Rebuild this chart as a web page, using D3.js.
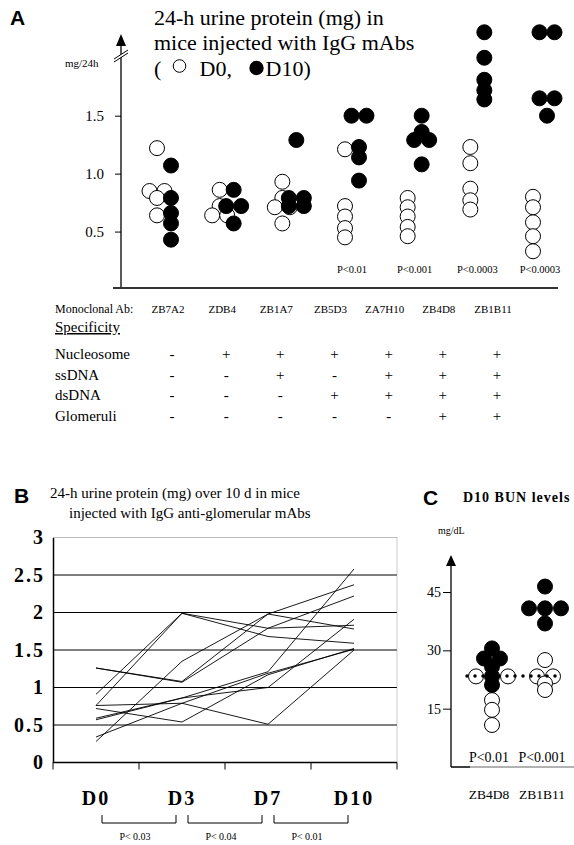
<!DOCTYPE html>
<html>
<head>
<meta charset="utf-8">
<script src="https://cdn.jsdelivr.net/npm/d3@7"></script>
<style>
  body { margin: 0; background: #fff; }
  text { font-family: "Liberation Serif", "Times New Roman", serif; fill: #000; }
  .panel { font-family: "Liberation Sans", Arial, sans-serif; font-weight: bold; font-size: 21px; }
</style>
</head>
<body>
<div id="fig"></div>
<script>
// ---- panel A : 24-h urine protein, D0 vs D10, per monoclonal Ab
const mabs = ["ZB7A2", "ZDB4", "ZB1A7", "ZB5D3", "ZA7H10", "ZB4D8", "ZB1B11"];
const proteinD0 = [
  [1.22, 0.85, 0.85, 0.79, 0.64],
  [0.86, 0.72, 0.64, 0.64],
  [0.93, 0.79, 0.71, 0.71, 0.57],
  [1.21, 0.72, 0.63, 0.53, 0.45],
  [0.79, 0.71, 0.63, 0.54, 0.46],
  [1.23, 1.09, 0.87, 0.77, 0.69],
  [0.80, 0.71, 0.58, 0.46, 0.33]
];
const proteinD10 = [
  [1.07, 0.79, 0.66, 0.57, 0.43],
  [0.86, 0.72, 0.72, 0.57],
  [1.29, 0.79, 0.79, 0.72, 0.72],
  [1.50, 1.50, 1.23, 1.14, 0.94],
  [1.50, 1.36, 1.29, 1.29, 1.08],
  [2.22, 2.00, 1.81, 1.72, 1.64],
  [2.22, 2.22, 1.65, 1.65, 1.50]
];
const pValuesA = ["", "", "", "P<0.01", "P<0.001", "P<0.0003", "P<0.0003"];
const yTicksA = [0.5, 1.0, 1.5];

// specificity table
const specRows = ["Nucleosome", "ssDNA", "dsDNA", "Glomeruli"];
const nucleosome = ["-", "+", "+", "+", "+", "+", "+"];
const ssDNA      = ["-", "-", "+", "-", "+", "+", "+"];
const dsDNA      = ["-", "-", "-", "+", "+", "+", "+"];
const glomeruli  = ["-", "-", "-", "-", "-", "+", "+"];

// ---- panel B : 24-h urine protein over 10 days, anti-glomerular mAbs (10 mice)
const days = ["D0", "D3", "D7", "D10"];
const mouseD0  = [1.26, 1.26, 0.91, 0.76, 0.28, 0.76, 0.59, 0.72, 0.57, 0.34];
const mouseD3  = [1.08, 1.07, 1.99, 1.99, 1.35, 0.79, 0.86, 0.54, 0.86, 0.79];
const mouseD7  = [1.98, 1.79, 1.79, 1.68, 1.98, 0.51, 1.00, 1.17, 1.21, 1.19];
const mouseD10 = [1.78, 2.22, 1.83, 1.59, 2.37, 1.50, 1.91, 1.52, 2.58, 1.51];
const pValuesB = ["P< 0.03", "P<  0.04", "P<  0.01"];

// ---- panel C : D10 BUN levels
const bunGroups = ["ZB4D8", "ZB1B11"];
const bunFilled = [[30.5, 27.9, 27.9, 25.8, 23.3, 21.1], [46.4, 40.8, 40.8, 40.8, 36.9]];
const bunOpen   = [[23.3, 23.3, 17.2, 14.7, 10.8], [27.5, 23.3, 23.3, 21.5, 19.8]];
const pValuesC = ["P<0.01", "P<0.001"];
const bunReference = 23.4;

const width = 574, height = 845;
const svg = d3.select("#fig").append("svg")
  .attr("width", width).attr("height", height)
  .attr("viewBox", [0, 0, width, height]);

// spread points with (almost) equal values sideways, beeswarm style
function spread(ys, step) {
  const idx = d3.range(ys.length).sort((a, b) => ys[a] - ys[b]);
  const off = ys.map(() => 0);
  let i = 0;
  while (i < idx.length) {
    let j = i + 1;
    while (j < idx.length && ys[idx[j]] - ys[idx[i]] < 5) j++;
    const n = j - i;
    for (let k = 0; k < n; k++) {
      off[idx[i + k]] = n % 2
        ? (k === 0 ? 0 : (k % 2 ? -1 : 1) * Math.ceil(k / 2))
        : (k % 2 ? 1 : -1) * (Math.floor(k / 2) + 0.5);
    }
    i = j;
  }
  return off.map(o => o * step);
}

/* ================= PANEL A ================= */
const yA = d3.scaleLinear().domain([0, 1.5]).range([289.5, 115.7]);
const xA = d3.scalePoint().domain(mabs).range([164, 540]);
const xTable = d3.scalePoint().domain(mabs).range([172, 497]);
const axisXA = 121;

svg.append("text").attr("class", "panel").attr("x", 10).attr("y", 25).text("A");

const titleA = svg.append("g").style("font-size", "22px");
titleA.append("text").attr("x", 154).attr("y", 25).text("24-h urine protein (mg) in");
titleA.append("text").attr("x", 154).attr("y", 50).text("mice injected with IgG mAbs");
titleA.append("text").attr("x", 154).attr("y", 76).text("(");
titleA.append("circle").attr("cx", 179.5).attr("cy", 66).attr("r", 6.3)
  .attr("fill", "#fff").attr("stroke", "#000");
titleA.append("text").attr("x", 199.5).attr("y", 76).text("D0,");
titleA.append("circle").attr("cx", 256.5).attr("cy", 68).attr("r", 7.2).attr("fill", "#000");
titleA.append("text").attr("x", 265.5).attr("y", 76).text("D10)");

// y axis
svg.append("g")
  .attr("transform", `translate(${axisXA},0)`)
  .call(d3.axisLeft(yA).tickValues(yTicksA).tickFormat(d3.format(".1f")).tickSize(6).tickPadding(11))
  .call(g => g.select(".domain").remove())
  .call(g => g.selectAll("text").style("font-family", "Liberation Serif").style("font-size", "15px"));

svg.append("line").attr("x1", axisXA).attr("x2", axisXA).attr("y1", 289).attr("y2", 42)
  .attr("stroke", "#000").attr("stroke-width", 1.3);
svg.append("path").attr("d", `M${axisXA},34L${axisXA - 5},46L${axisXA + 5},46Z`).attr("fill", "#000");
// axis break
svg.append("path").attr("d", `M${axisXA - 7},59L${axisXA + 7},50L${axisXA + 7},53L${axisXA - 7},62Z`)
  .attr("fill", "#fff");
svg.append("line").attr("x1", axisXA - 7).attr("y1", 59).attr("x2", axisXA + 7).attr("y2", 50)
  .attr("stroke", "#000");
svg.append("line").attr("x1", axisXA - 7).attr("y1", 62).attr("x2", axisXA + 7).attr("y2", 53)
  .attr("stroke", "#000");
svg.append("text").attr("x", 65).attr("y", 67).style("font-size", "11px").text("mg/24h");

// x axis line
svg.append("line").attr("x1", 113).attr("x2", 558).attr("y1", 288).attr("y2", 288)
  .attr("stroke", "#333").attr("stroke-width", 2);

// dots
const dotsA = [];
mabs.forEach((m, i) => {
  [[proteinD0[i], -7, false], [proteinD10[i], 7, true]].forEach(([vals, shift, filled]) => {
    const ys = vals.map(v => yA(v));
    const off = spread(ys, 15);
    vals.forEach((v, k) => dotsA.push({ x: xA(m) + shift + off[k], y: ys[k], filled }));
  });
});
svg.append("g").selectAll("circle")
  .data(dotsA.filter(d => !d.filled).concat(dotsA.filter(d => d.filled)))
  .join("circle")
  .attr("cx", d => d.x).attr("cy", d => d.y).attr("r", 7.5)
  .attr("fill", d => d.filled ? "#000" : "#fff")
  .attr("stroke", "#000").attr("stroke-width", 1);

svg.append("g").selectAll("text")
  .data(mabs.filter((m, i) => pValuesA[i]))
  .join("text")
  .attr("x", d => xA(d)).attr("y", 273)
  .attr("text-anchor", "middle").style("font-size", "10.5px")
  .text(d => pValuesA[mabs.indexOf(d)]);

// table
svg.append("text").attr("x", 55).attr("y", 313).style("font-size", "12px").text("Monoclonal Ab:");
svg.append("g").selectAll("text").data(mabs).join("text")
  .attr("x", d => xTable(d) - 4).attr("y", 313).attr("text-anchor", "middle")
  .style("font-size", "11px").text(d => d);
svg.append("text").attr("x", 55).attr("y", 332).style("font-size", "15px")
  .style("text-decoration", "underline").text("Specificity");

const rowY = d3.scalePoint().domain(specRows).range([359, 421]);
const specTable = [nucleosome, ssDNA, dsDNA, glomeruli];
specRows.forEach((r, ri) => {
  svg.append("text").attr("x", 55).attr("y", rowY(r)).style("font-size", "15px").text(r);
  svg.append("g").selectAll("text").data(specTable[ri]).join("text")
    .attr("x", (d, i) => xTable(mabs[i])).attr("y", rowY(r))
    .attr("text-anchor", "middle").style("font-size", "15px")
    .text(d => d);
});

/* ================= PANEL B ================= */
const xB = d3.scaleBand().domain(days).range([53, 397]);
const yB = d3.scaleLinear().domain([0, 3]).range([762.5, 537.5]);

svg.append("text").attr("class", "panel").attr("x", 14).attr("y", 503).text("B");
svg.append("text").attr("x", 50).attr("y", 498).style("font-size", "15px")
  .text("24-h urine protein (mg) over 10 d in mice");
svg.append("text").attr("x", 69).attr("y", 518).style("font-size", "15px")
  .text("injected with IgG anti-glomerular mAbs");

// grid
svg.append("g").selectAll("line").data(d3.range(0.5, 2.51, 0.5)).join("line")
  .attr("x1", 53).attr("x2", 397).attr("y1", d => yB(d)).attr("y2", d => yB(d))
  .attr("stroke", "#000").attr("stroke-width", 1);
svg.append("line").attr("x1", 53).attr("x2", 397).attr("y1", yB(3)).attr("y2", yB(3))
  .attr("stroke", "#bbb");
svg.append("line").attr("x1", 397).attr("x2", 397).attr("y1", yB(3)).attr("y2", yB(0))
  .attr("stroke", "#999").attr("stroke-dasharray", "1,1");

svg.append("g")
  .attr("transform", "translate(53,0)")
  .call(d3.axisLeft(yB).tickValues(d3.range(0, 3.01, 0.5)).tickFormat(d => d).tickSize(0).tickPadding(8))
  .call(g => g.select(".domain").attr("stroke-width", 1.5))
  .call(g => g.selectAll("text").style("font-family", "Liberation Serif")
    .style("font-size", "20px").style("font-weight", "bold").style("letter-spacing", "2px"));

svg.append("line").attr("x1", 53).attr("x2", 397).attr("y1", yB(0)).attr("y2", yB(0))
  .attr("stroke", "#000").attr("stroke-width", 1.5);
svg.append("g").selectAll("line").data(d3.range(days.length + 1)).join("line")
  .attr("x1", i => 53 + i * xB.step()).attr("x2", i => 53 + i * xB.step())
  .attr("y1", yB(0)).attr("y2", yB(0) + 7).attr("stroke", "#000");

svg.append("g").selectAll("text").data(days).join("text")
  .attr("x", d => xB(d) + xB.bandwidth() / 2).attr("y", 805)
  .attr("text-anchor", "middle")
  .style("font-size", "20px").style("font-weight", "bold").style("letter-spacing", "2px")
  .text(d => d);

// lines per mouse
const mice = mouseD0.map((v, i) => [mouseD0[i], mouseD3[i], mouseD7[i], mouseD10[i]]);
const lineB = d3.line()
  .x((d, i) => xB(days[i]) + xB.bandwidth() / 2)
  .y(d => yB(d));
svg.append("g").selectAll("path").data(mice).join("path")
  .attr("d", lineB).attr("fill", "none").attr("stroke", "#000").attr("stroke-width", 0.9);

// brackets with p-values
const cx = d => xB(d) + xB.bandwidth() / 2;
pValuesB.forEach((p, i) => {
  const x1 = cx(days[i]) + 6, x2 = cx(days[i + 1]) - 6;
  svg.append("path").attr("d", `M${x1},815V823H${x2}V815`)
    .attr("fill", "none").attr("stroke", "#000");
  svg.append("text").attr("x", (x1 + x2) / 2 - 4).attr("y", 840).attr("text-anchor", "middle")
    .style("font-size", "10px").text(p);
});

/* ================= PANEL C ================= */
const yC = d3.scaleLinear().domain([0, 45]).range([767, 592]);
const xC = d3.scalePoint().domain(bunGroups).range([492, 545]);
const axisXC = 451;

svg.append("text").attr("class", "panel").attr("x", 423).attr("y", 505).text("C");
svg.append("text").attr("x", 463).attr("y", 502)
  .style("font-size", "14px").style("font-weight", "bold").style("letter-spacing", "1px")
  .text("D10 BUN levels");
svg.append("text").attr("x", 438).attr("y", 534).style("font-size", "10px").text("mg/dL");

svg.append("g")
  .attr("transform", `translate(${axisXC},0)`)
  .call(d3.axisLeft(yC).tickValues([15, 30, 45]).tickSize(8).tickPadding(2))
  .call(g => g.select(".domain").remove())
  .call(g => g.selectAll("text").style("font-family", "Liberation Serif").style("font-size", "14px"));
svg.append("line").attr("x1", axisXC).attr("x2", axisXC).attr("y1", 767).attr("y2", 562)
  .attr("stroke", "#000").attr("stroke-width", 1.3);
svg.append("path").attr("d", `M${axisXC},555L${axisXC - 5},566L${axisXC + 5},566Z`).attr("fill", "#000");
svg.append("line").attr("x1", axisXC).attr("x2", 470).attr("y1", 767).attr("y2", 767)
  .attr("stroke", "#000").attr("stroke-width", 1.5);
svg.append("line").attr("x1", 470).attr("x2", 574).attr("y1", 767).attr("y2", 767)
  .attr("stroke", "#999").attr("stroke-width", 1.5);

const dotsC = [];
bunGroups.forEach((g, i) => {
  const vals = bunFilled[i].concat(bunOpen[i]);
  const nF = bunFilled[i].length;
  const ys = vals.map(v => yC(v));
  const off = spread(ys, 16);
  vals.forEach((v, k) => dotsC.push({ x: xC(g) + off[k], y: ys[k], filled: k < nF }));
});
svg.append("g").selectAll("circle")
  .data(dotsC.filter(d => !d.filled).concat(dotsC.filter(d => d.filled)))
  .join("circle")
  .attr("cx", d => d.x).attr("cy", d => d.y).attr("r", 7.5)
  .attr("fill", d => d.filled ? "#000" : "#fff")
  .attr("stroke", "#000").attr("stroke-width", 1);

svg.append("line").attr("x1", 467).attr("x2", 561)
  .attr("y1", yC(bunReference)).attr("y2", yC(bunReference))
  .attr("stroke", "#000").attr("stroke-width", 3.5)
  .attr("stroke-linecap", "round").attr("stroke-dasharray", "0,8");

svg.append("g").selectAll("text").data(bunGroups).join("text")
  .attr("x", d => xC(d) - 3).attr("y", 762).attr("text-anchor", "middle")
  .style("font-size", "14px").text((d, i) => pValuesC[i]);
svg.append("g").selectAll("text").data(bunGroups).join("text")
  .attr("x", d => xC(d) - 3).attr("y", 799).attr("text-anchor", "middle")
  .style("font-size", "13.5px").text(d => d);
</script>
</body>
</html>
